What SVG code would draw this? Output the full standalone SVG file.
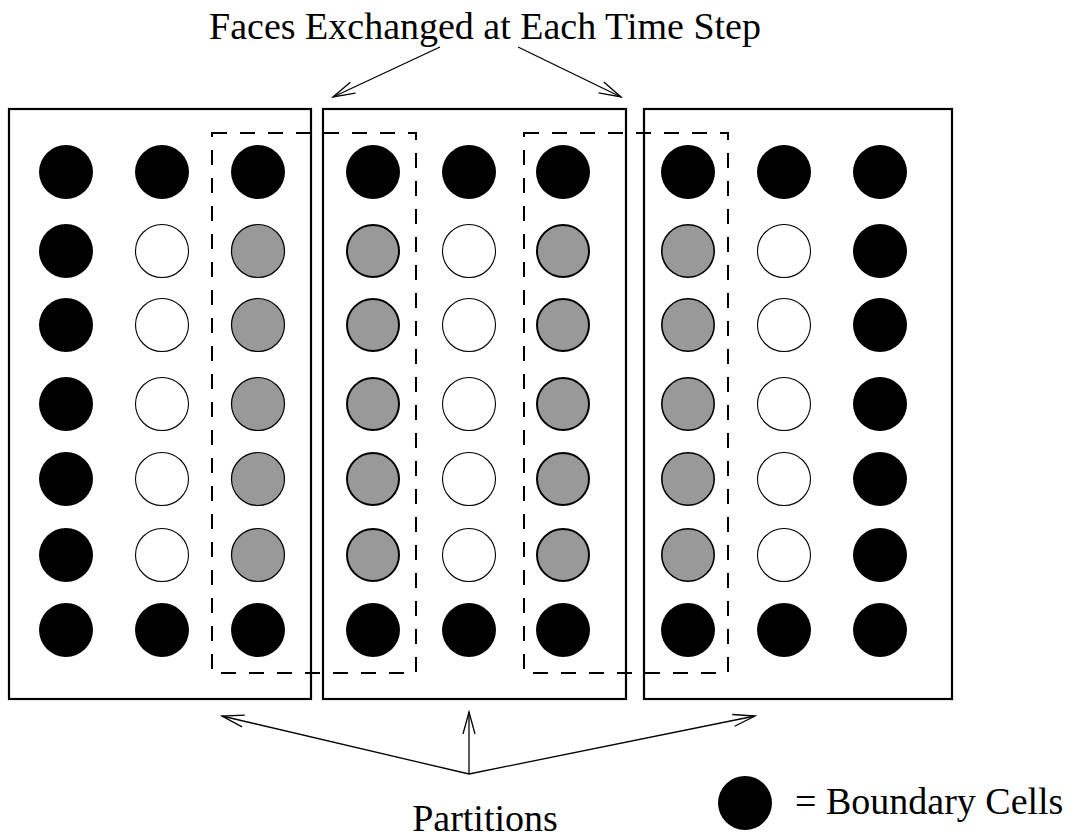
<svg xmlns="http://www.w3.org/2000/svg" width="1074" height="840" viewBox="0 0 1074 840">
  <style>
    .box { fill: none; stroke: #000; stroke-width: 2.2; }
    .exch { fill: none; stroke: #000; stroke-width: 2; stroke-dasharray: 15 13; }
    .b { fill: #000; }
    .w { fill: #fff; stroke: #000; stroke-width: 1.1; }
    .g { fill: #999; stroke: #000; stroke-width: 1.2; }
    .g2 { fill: #999; stroke: #000; stroke-width: 2; }
    .g3 { fill: #999; stroke: #000; stroke-width: 1.6; }
    .arrow { fill: none; stroke: #000; stroke-width: 1.3; marker-end: url(#head); }
    .lbl { font-family: "Liberation Serif", "Times New Roman", serif; font-size: 38px; fill: #000; }
  </style>
  <defs>
    <marker id="head" markerUnits="userSpaceOnUse" markerWidth="30" markerHeight="20" viewBox="-24 -10 30 20" refX="0" refY="0" orient="auto">
      <path d="M-22,-6 L0,0 L-22,6" fill="none" stroke="#000" stroke-width="1.3"/>
    </marker>
    <circle id="cb" r="27" class="b"/>
  </defs>
  <rect width="1074" height="840" fill="#fff"/>

  <!-- partition 1 -->
  <g id="partition-1">
    <rect class="box" x="9" y="109" width="302" height="590"/>
    <circle class="b" cx="66" cy="172" r="27"/><circle class="b" cx="162" cy="172" r="27"/><circle class="b" cx="258" cy="172" r="27"/>
    <circle class="b" cx="66" cy="251" r="27"/><circle class="w" cx="162" cy="251" r="26.5"/><circle class="g" cx="258" cy="251" r="26.5"/>
    <circle class="b" cx="66" cy="325" r="27"/><circle class="w" cx="162" cy="325" r="26.5"/><circle class="g" cx="258" cy="325" r="26.5"/>
    <circle class="b" cx="66" cy="404" r="27"/><circle class="w" cx="162" cy="404" r="26.5"/><circle class="g" cx="258" cy="404" r="26.5"/>
    <circle class="b" cx="66" cy="479" r="27"/><circle class="w" cx="162" cy="479" r="26.5"/><circle class="g" cx="258" cy="479" r="26.5"/>
    <circle class="b" cx="66" cy="555" r="27"/><circle class="w" cx="162" cy="555" r="26.5"/><circle class="g" cx="258" cy="555" r="26.5"/>
    <circle class="b" cx="66" cy="630" r="27"/><circle class="b" cx="162" cy="630" r="27"/><circle class="b" cx="258" cy="630" r="27"/>
  </g>

  <!-- partition 2 -->
  <g id="partition-2">
    <rect class="box" x="323" y="109" width="303" height="590"/>
    <circle class="b" cx="373" cy="172" r="27"/><circle class="b" cx="469" cy="172" r="27"/><circle class="b" cx="563" cy="172" r="27"/>
    <circle class="g2" cx="373" cy="251" r="26"/><circle class="w" cx="469" cy="251" r="26.5"/><circle class="g2" cx="563" cy="251" r="26"/>
    <circle class="g2" cx="373" cy="325" r="26"/><circle class="w" cx="469" cy="325" r="26.5"/><circle class="g2" cx="563" cy="325" r="26"/>
    <circle class="g2" cx="373" cy="404" r="26"/><circle class="w" cx="469" cy="404" r="26.5"/><circle class="g2" cx="563" cy="404" r="26"/>
    <circle class="g2" cx="373" cy="479" r="26"/><circle class="w" cx="469" cy="479" r="26.5"/><circle class="g2" cx="563" cy="479" r="26"/>
    <circle class="g2" cx="373" cy="555" r="26"/><circle class="w" cx="469" cy="555" r="26.5"/><circle class="g2" cx="563" cy="555" r="26"/>
    <circle class="b" cx="373" cy="630" r="27"/><circle class="b" cx="469" cy="630" r="27"/><circle class="b" cx="563" cy="630" r="27"/>
  </g>

  <!-- partition 3 -->
  <g id="partition-3">
    <rect class="box" x="644" y="109" width="308" height="590"/>
    <circle class="b" cx="688" cy="172" r="27"/><circle class="b" cx="784" cy="172" r="27"/><circle class="b" cx="880" cy="172" r="27"/>
    <circle class="g3" cx="688" cy="251" r="26.2"/><circle class="w" cx="784" cy="251" r="26.5"/><circle class="b" cx="880" cy="251" r="27"/>
    <circle class="g3" cx="688" cy="325" r="26.2"/><circle class="w" cx="784" cy="325" r="26.5"/><circle class="b" cx="880" cy="325" r="27"/>
    <circle class="g3" cx="688" cy="404" r="26.2"/><circle class="w" cx="784" cy="404" r="26.5"/><circle class="b" cx="880" cy="404" r="27"/>
    <circle class="g3" cx="688" cy="479" r="26.2"/><circle class="w" cx="784" cy="479" r="26.5"/><circle class="b" cx="880" cy="479" r="27"/>
    <circle class="g3" cx="688" cy="555" r="26.2"/><circle class="w" cx="784" cy="555" r="26.5"/><circle class="b" cx="880" cy="555" r="27"/>
    <circle class="b" cx="688" cy="630" r="27"/><circle class="b" cx="784" cy="630" r="27"/><circle class="b" cx="880" cy="630" r="27"/>
  </g>

  <!-- exchanged faces (dashed outlines spanning two partitions) -->
  <g id="exchange-1">
    <rect class="exch" x="212" y="133" width="204" height="540"/>
  </g>
  <g id="exchange-2">
    <rect class="exch" x="524" y="133" width="204" height="540"/>
  </g>

  <!-- connectors -->
  <g id="connectors">
    <line class="arrow" x1="440" y1="47" x2="333" y2="97"/>
    <line class="arrow" x1="518" y1="47" x2="621" y2="97"/>
    <line class="arrow" x1="469" y1="774" x2="222" y2="716"/>
    <line class="arrow" x1="469" y1="774" x2="469" y2="712"/>
    <line class="arrow" x1="469" y1="774" x2="755" y2="716"/>
  </g>

  <!-- labels -->
  <g id="labels">
    <text class="lbl" x="485" y="39" text-anchor="middle">Faces Exchanged at Each Time Step</text>
    <text class="lbl" x="485" y="831" text-anchor="middle">Partitions</text>
  </g>

  <!-- legend -->
  <g id="legend">
    <circle class="b" cx="745" cy="803" r="27"/>
    <text class="lbl" x="795" y="814">= Boundary Cells</text>
  </g>
</svg>
